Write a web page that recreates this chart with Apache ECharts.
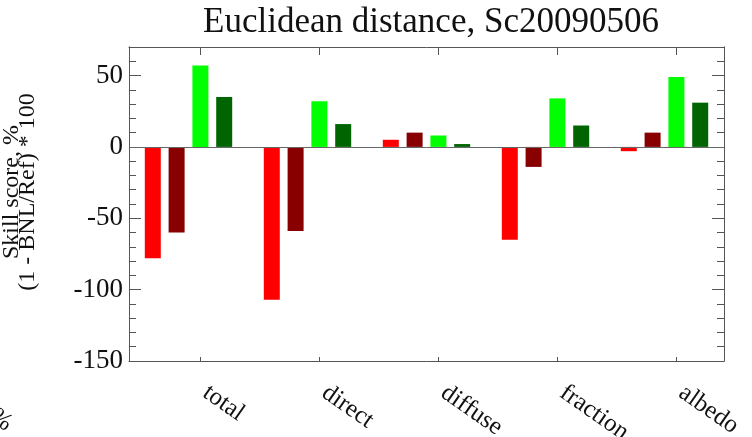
<!DOCTYPE html>
<html>
<head>
<meta charset="utf-8">
<script src="https://cdn.jsdelivr.net/npm/echarts@6/dist/echarts.min.js"></script>
<style>
  html, body { margin: 0; padding: 0; background: #ffffff; }
  #chart { width: 752px; height: 437px; }
</style>
</head>
<body>
<div id="chart"></div>
<script>
// Skill-score categories (one group of four bars each)
const groups = ['total', 'direct', 'diffuse', 'fraction', 'albedo'];

// Skill scores, % for the four runs in each group
const runA = [-78, -107, 5, -65, -3];   // bright red
const runB = [-60, -59, 10, -14, 10];   // dark red
const runC = [57, 32, 8, 34, 49];       // bright green
const runD = [35, 16, 2, 15, 31];       // dark green

// Y tick labels
const yTickLabels = [-150, -100, -50, 0, 50];

const titleText = 'Euclidean distance, Sc20090506';
const yTitle = 'Skill score, %\n(1 - BNL/Ref) * 100';

const runs = [
  { name: 'run A', values: runA, color: '#ff0000' },
  { name: 'run B', values: runB, color: '#880000' },
  { name: 'run C', values: runC, color: '#00ff00' },
  { name: 'run D', values: runD, color: '#006400' }
];

// Each group occupies five slots: four bars and one empty slot
const SLOTS = 5;
const slotOf = (g, j) => g * SLOTS + j;
const groupTickPos = groups.map((_, g) => slotOf(g, 2));

const FONT = 'Liberation Serif';
const FRAME = '#555555';

const chart = echarts.init(document.getElementById('chart'), null, { renderer: 'canvas' });

const xBase = {
  type: 'value',
  min: -1,
  max: SLOTS * groups.length - 1,
  splitLine: { show: false },
  axisLine: { show: true, onZero: false, lineStyle: { color: FRAME, width: 1 } }
};

const yBase = {
  type: 'value',
  min: -150,
  max: 70,
  splitLine: { show: false },
  axisLine: { show: true, onZero: false, lineStyle: { color: FRAME, width: 1 } }
};

chart.setOption({
  animation: false,
  backgroundColor: '#ffffff',
  title: {
    text: titleText,
    left: 426,
    top: 0,
    textAlign: 'center',
    textStyle: { fontFamily: FONT, fontSize: 35, fontWeight: 'normal', color: '#111111' }
  },
  grid: { left: 129, right: 28, top: 47, bottom: 76, containLabel: false, outerBoundsMode: 'none' },
  xAxis: [
    Object.assign({}, xBase, {
      position: 'bottom',
      axisTick: { show: true, inside: true, length: 4, customValues: groupTickPos, lineStyle: { color: FRAME } },
      axisLabel: {
        show: true,
        customValues: groupTickPos,
        rotate: -35,
        margin: 26,
        padding: [0, 0, 0, 6],
        fontFamily: FONT,
        fontSize: 25,
        color: '#111111',
        formatter: v => groups[Math.round((v - 2) / SLOTS)] || ''
      }
    }),
    Object.assign({}, xBase, {
      position: 'top',
      axisTick: { show: true, inside: true, length: 8, customValues: groupTickPos, lineStyle: { color: FRAME } },
      axisLabel: { show: false }
    })
  ],
  yAxis: [
    Object.assign({}, yBase, {
      position: 'left',
      interval: 50,
      axisTick: { show: true, inside: true, length: 12, lineStyle: { color: FRAME } },
      axisLabel: {
        show: true,
        margin: 6,
        fontFamily: FONT,
        fontSize: 27,
        color: '#111111',
        showMaxLabel: false,
        formatter: v => (yTickLabels.indexOf(v) >= 0 ? String(v) : '')
      }
    }),
    Object.assign({}, yBase, {
      position: 'left',
      interval: 10,
      axisTick: { show: true, inside: true, length: 7, lineStyle: { color: FRAME } },
      axisLabel: { show: false }
    }),
    Object.assign({}, yBase, {
      position: 'right',
      interval: 50,
      axisTick: { show: true, inside: true, length: 12, lineStyle: { color: FRAME } },
      axisLabel: { show: false }
    }),
    Object.assign({}, yBase, {
      position: 'right',
      interval: 10,
      axisTick: { show: true, inside: true, length: 7, lineStyle: { color: FRAME } },
      axisLabel: { show: false }
    })
  ],
  graphic: [
    {
      type: 'text',
      x: 20,
      y: 192,
      rotation: Math.PI / 2,
      style: {
        text: yTitle,
        fontFamily: FONT,
        fontSize: 24,
        lineHeight: 16,
        fill: '#111111',
        align: 'center',
        verticalAlign: 'middle'
      }
    },
    {
      type: 'text',
      x: 1,
      y: 420,
      rotation: -35 * Math.PI / 180,
      style: {
        text: '%',
        fontFamily: FONT,
        fontSize: 25,
        fill: '#111111',
        align: 'center',
        verticalAlign: 'middle'
      }
    }
  ],
  series: runs.map((r, j) => ({
    type: 'bar',
    name: r.name,
    xAxisIndex: 0,
    yAxisIndex: 0,
    barWidth: 16,
    barGap: '-100%',
    itemStyle: { color: r.color },
    data: r.values.map((v, g) => [slotOf(g, j), v]),
    markLine: j === 0 ? {
      silent: true,
      symbol: 'none',
      label: { show: false },
      lineStyle: { color: '#666666', width: 1, type: 'solid' },
      data: [{ yAxis: 0 }]
    } : undefined
  }))
});
</script>
</body>
</html>
